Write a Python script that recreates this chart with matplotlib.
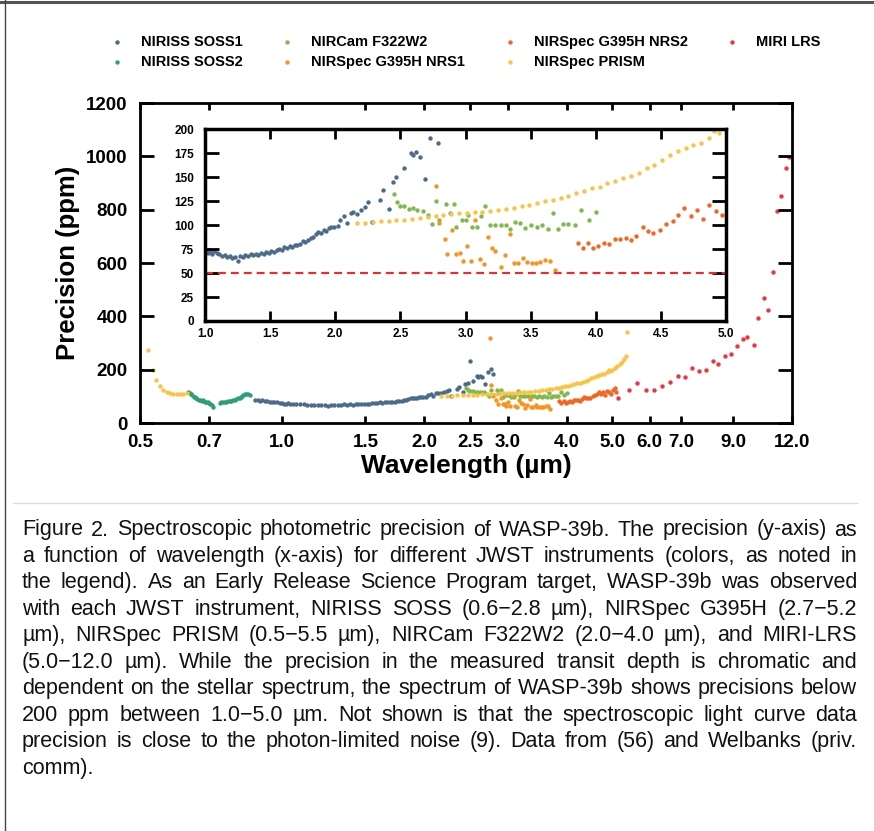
import matplotlib
matplotlib.use('Agg')
import matplotlib.pyplot as plt
from matplotlib.lines import Line2D
from matplotlib.ticker import NullLocator

plt.rcParams['font.family'] = ['Liberation Sans', 'DejaVu Sans']
plt.rcParams['font.weight'] = 'bold'

# ---- data (wavelength in um, precision in ppm) ----
soss1_wl = [0.877, 0.887, 0.898, 0.908, 0.919, 0.930, 0.941, 0.952, 0.963, 0.975, 0.987, 0.999,
            1.01, 1.02, 1.03, 1.04, 1.056, 1.07, 1.09, 1.11, 1.13, 1.15, 1.17, 1.19, 1.21, 1.23, 1.25,
            1.27, 1.29, 1.31, 1.33, 1.35, 1.37, 1.39, 1.41, 1.43, 1.45, 1.47, 1.49, 1.51, 1.53, 1.55,
            1.57, 1.59, 1.61, 1.63, 1.65, 1.67, 1.69, 1.71, 1.73, 1.75, 1.77, 1.79, 1.81, 1.83, 1.85,
            1.87, 1.89, 1.91, 1.93, 1.95, 1.97, 1.99, 2.02, 2.04, 2.07, 2.09, 2.12, 2.14, 2.17, 2.20,
            2.23, 2.25, 2.28, 2.34, 2.37, 2.41, 2.44, 2.47, 2.50, 2.53, 2.58, 2.60, 2.62, 2.65, 2.69,
            2.73, 2.77, 2.79]
soss1_ppm = [87, 86, 84, 85, 83, 82, 80, 80, 77, 78, 76, 74,
             73, 71, 74, 72, 70, 73, 71, 70, 68, 69, 67, 68, 66, 67, 63,
             68, 67, 69, 68, 70, 69, 70, 69, 71, 70, 72, 71, 73, 72, 74,
             75, 74, 77, 76, 78, 77, 79, 79, 80, 83, 82, 84, 86, 87, 91,
             93, 92, 95, 94, 97, 98, 98, 99, 105, 109, 102, 112, 114, 111, 116,
             119, 124, 103, 126, 136, 117, 145, 150, 231, 159, 175, 173, 176, 171, 148,
             191, 202, 185]

soss2_wl = [0.633, 0.637, 0.641, 0.645, 0.649, 0.653, 0.657, 0.661, 0.665, 0.670, 0.675, 0.680,
            0.686, 0.691, 0.696, 0.700, 0.704, 0.710, 0.715,
            0.737, 0.743, 0.749, 0.755, 0.761, 0.767, 0.774, 0.780, 0.787, 0.793, 0.800, 0.806,
            0.813, 0.818, 0.822, 0.828, 0.833, 0.837, 0.845, 0.854]
soss2_ppm = [118, 113, 109, 104, 99, 96, 93, 90, 87, 86, 84, 85, 80, 79, 77, 76, 72, 66, 59,
             74, 77, 80, 79, 80, 82, 84, 83, 87, 86, 89, 92, 95, 99, 103, 106, 108, 108, 109, 106]

nircam_wl = [2.448, 2.475, 2.50, 2.53, 2.57, 2.60, 2.63, 2.67, 2.71, 2.74,
             2.77, 2.80, 2.85, 2.88, 2.91, 2.93, 2.97, 3.00, 3.02, 3.05,
             3.09, 3.12, 3.15, 3.19, 3.23, 3.27, 3.31, 3.34, 3.38, 3.42,
             3.46, 3.50, 3.55, 3.59, 3.63, 3.67, 3.71, 3.75, 3.79, 3.84,
             3.89, 3.95, 4.00]
nircam_ppm = [132, 124, 120, 120, 117, 118, 116, 115, 110, 101,
              125, 105, 122, 113, 122, 98, 105, 105, 110, 98,
              98, 109, 120, 100, 100, 100, 100, 96, 103, 102,
              97, 100, 98, 100, 96, 113, 96, 101, 101, 100,
              116, 105, 114]

nrs1_wl = [2.76, 2.77, 2.80, 2.84, 2.86, 2.90, 2.93, 2.96, 2.98, 3.01,
           3.04, 3.07, 3.11, 3.14, 3.17, 3.20, 3.23, 3.27, 3.30, 3.34,
           3.37, 3.40, 3.44, 3.47, 3.51, 3.54, 3.57, 3.61, 3.65, 3.69]
nrs1_ppm = [318, 141, 102, 85, 70, 95, 70, 71, 63, 78,
            63, 105, 65, 59, 87, 76, 73, 56, 69, 91,
            60, 60, 66, 61, 60, 60, 61, 64, 62, 53]

nrs2_wl = [3.86, 3.90, 3.94, 3.98, 4.02, 4.06, 4.10, 4.15, 4.19, 4.23,
           4.27, 4.31, 4.36, 4.40, 4.44, 4.49, 4.54, 4.59, 4.63, 4.68,
           4.73, 4.78, 4.82, 4.87, 4.92, 4.97, 5.02, 5.06, 5.10]
nrs2_ppm = [81, 76, 81, 76, 78, 81, 80, 85, 85, 86,
            84, 89, 98, 94, 92, 95, 101, 104, 110, 118,
            109, 116, 106, 121, 115, 110, 125, 131, 118]

prism_wl = [0.521, 0.533, 0.541, 0.551, 0.560, 0.569, 0.578, 0.588, 0.598, 0.608, 0.618, 0.628,
            2.17, 2.23, 2.29, 2.35, 2.41, 2.47, 2.53, 2.59, 2.65, 2.71,
            2.77, 2.83, 2.89, 2.95, 3.01, 3.07, 3.13, 3.19, 3.25, 3.31,
            3.37, 3.43, 3.49, 3.55, 3.61, 3.67, 3.73, 3.79, 3.85, 3.91,
            3.97, 4.03, 4.09, 4.15, 4.21, 4.27, 4.33, 4.39, 4.45, 4.51,
            4.57, 4.63, 4.69, 4.75, 4.81, 4.87, 4.91, 4.95,
            5.00, 5.06, 5.12, 5.18, 5.24, 5.30, 5.35, 5.38]
prism_ppm = [273, 200, 160, 137, 125, 116, 112, 109, 109, 108, 108, 112,
             102, 102, 103, 104, 104, 105, 105, 106, 107, 108,
             109, 110, 111, 112, 112, 114, 114, 115, 116, 117,
             118, 120, 121, 123, 125, 126, 128, 130, 133, 135,
             139, 140, 144, 146, 149, 151, 154, 159, 162, 168,
             173, 177, 180, 183, 185, 191, 198, 196,
             199, 207, 214, 222, 230, 239, 250, 342]

miri_wl = [5.14, 5.41, 5.63, 5.90, 6.12, 6.37, 6.63, 6.88, 7.12, 7.37,
           7.62, 7.88, 8.15, 8.38, 8.67, 8.91, 9.17, 9.43, 9.66, 9.95,
           10.16, 10.45, 10.66, 10.92, 11.16, 11.38, 11.65, 11.82]
miri_ppm = [93, 124, 150, 124, 124, 137, 152, 175, 172, 206,
            194, 200, 231, 223, 250, 257, 288, 316, 323, 294,
            395, 467, 424, 567, 794, 852, 955, 999]

series = [
    ('NIRISS SOSS1', soss1_wl, soss1_ppm, '#4b6b8c'),
    ('NIRISS SOSS2', soss2_wl, soss2_ppm, '#2a9f7a'),
    ('NIRCam F322W2', nircam_wl, nircam_ppm, '#7dba4c'),
    ('NIRSpec G395H NRS1', nrs1_wl, nrs1_ppm, '#f7941d'),
    ('NIRSpec G395H NRS2', nrs2_wl, nrs2_ppm, '#f26522'),
    ('NIRSpec PRISM', prism_wl, prism_ppm, '#fbc343'),
    ('MIRI LRS', miri_wl, miri_ppm, '#f2333d'),
]

main_xticks = [0.5, 0.7, 1.0, 1.5, 2.0, 2.5, 3.0, 4.0, 5.0, 6.0, 7.0, 9.0, 12.0]
main_yticks = [0, 200, 400, 600, 800, 1000, 1200]
inset_xticks = [1.0, 1.5, 2.0, 2.5, 3.0, 3.5, 4.0, 4.5, 5.0]
inset_yticks = [0, 25, 50, 75, 100, 125, 150, 175, 200]
noise_floor = 50

cap_lines = [
    "Figure 2. Spectroscopic photometric precision of WASP-39b. The precision (y-axis) as",
    "a function of wavelength (x-axis) for different JWST instruments (colors, as noted in",
    "the legend). As an Early Release Science Program target, WASP-39b was observed",
    "with each JWST instrument, NIRISS SOSS (0.6\u22122.8 \u00b5m), NIRSpec G395H (2.7\u22125.2",
    "\u00b5m), NIRSpec PRISM (0.5\u22125.5 \u00b5m), NIRCam F322W2 (2.0\u22124.0 \u00b5m), and MIRI-LRS",
    "(5.0\u221212.0 \u00b5m). While the precision in the measured transit depth is chromatic and",
    "dependent on the stellar spectrum, the spectrum of WASP-39b shows precisions below",
    "200 ppm between 1.0\u22125.0 \u00b5m. Not shown is that the spectroscopic light curve data",
    "precision is close to the photon-limited noise (9). Data from (56) and Welbanks (priv.",
    "comm).",
]

W, H = 874, 831
fig = plt.figure(figsize=(W / 100, H / 100), dpi=100)

# ---- main axes ----
ax = fig.add_axes([140 / W, 1 - 423 / H, 652 / W, 320 / H])
handles = []
for name, wl, ppm, col in series:
    h = ax.scatter(wl, ppm, s=10, color=col, linewidths=0, label=name)
    handles.append(h)
ax.set_xscale('log')
ax.set_xlim(0.5, 12.0)
ax.set_ylim(0, 1200)
ax.set_xticks(main_xticks)
ax.set_xticklabels(['%.1f' % t for t in main_xticks])
ax.xaxis.set_minor_locator(NullLocator())
ax.set_yticks(main_yticks)
ax.set_yticklabels([str(t) for t in main_yticks])
ax.tick_params(axis='x', direction='in', length=5, width=2, top=True, labelsize=13.5, pad=8)
ax.tick_params(axis='y', direction='in', length=10, width=2, right=True, labelsize=13.5, pad=9)
for sp in ax.spines.values():
    sp.set_linewidth(2)
ax.set_xlabel('Wavelength (\u00b5m)', fontsize=19, fontweight='bold', labelpad=2)
ax.set_ylabel('Precision (ppm)', fontsize=18.5, fontweight='bold', labelpad=4)

# ---- inset ----
axin = fig.add_axes([205 / W, 1 - 321 / H, 521 / W, 192 / H])
for name, wl, ppm, col in series:
    axin.scatter(wl, ppm, s=10, color=col, linewidths=0)
axin.axhline(noise_floor, color='#ff2424', lw=1.5, ls=(0, (3.8, 2.4)))
axin.set_xlim(1.0, 5.0)
axin.set_ylim(0, 200)
axin.set_xticks(inset_xticks)
axin.set_xticklabels(['%.1f' % t for t in inset_xticks])
axin.set_yticks(inset_yticks)
axin.set_yticklabels([str(t) for t in inset_yticks])
axin.tick_params(axis='x', direction='in', length=7, width=2, top=True, labelsize=8.5, pad=5)
axin.tick_params(axis='y', direction='in', length=10, width=2, right=True, labelsize=8.5, pad=8)
for sp in axin.spines.values():
    sp.set_linewidth(2.5)

# ---- legend across the top ----
fig.legend(handles=handles, labels=[s[0] for s in series], loc='upper left',
           bbox_to_anchor=(110 / W, 1 - 35 / H), ncol=4, frameon=False,
           prop={'weight': 'bold', 'size': 10.5}, handlelength=1.0, handletextpad=1.14,
           columnspacing=2.55, labelspacing=0.42, borderpad=0, borderaxespad=0,
           scatterpoints=1, markerscale=1.0)

# ---- page frame and caption ----
fig.add_artist(Line2D([0, 1], [1 - 1.5 / H] * 2, color='#555555', lw=2.2, transform=fig.transFigure))
fig.add_artist(Line2D([4.5 / W] * 2, [0, 1], color='#444444', lw=1.0, transform=fig.transFigure))
fig.add_artist(Line2D([13 / W, 857 / W], [1 - 503 / H] * 2, color='#dcdcdc', lw=1.0,
                      transform=fig.transFigure))

cap_family = ['Liberation Sans', 'DejaVu Sans']
r = fig.canvas.get_renderer()
x0, x1 = 22, 857
probe = [fig.text(0, 0, ln, fontsize=15, family=cap_family, weight='normal') for ln in cap_lines[:-1]]
widest = max(t.get_window_extent(r).width for t in probe)
for t in probe:
    t.remove()
cap_size = 15 * (x1 - x0) / widest * 0.995

for i, ln in enumerate(cap_lines):
    yb = 1 - (535.5 + 26.45 * i) / H
    words = ln.split(' ')
    texts = [fig.text(0, yb, w, fontsize=cap_size, family=cap_family, weight='normal',
                      va='baseline', color='#111111') for w in words]
    widths = [t.get_window_extent(r).width for t in texts]
    if i < len(cap_lines) - 1 and len(words) > 1:
        gap = (x1 - x0 - sum(widths)) / (len(words) - 1)
    else:
        gap = cap_size * 100 / 72 * 0.278
    x = x0
    for t, w in zip(texts, widths):
        t.set_x(x / W)
        x += w + gap

fig.savefig('out.png', dpi=100)
